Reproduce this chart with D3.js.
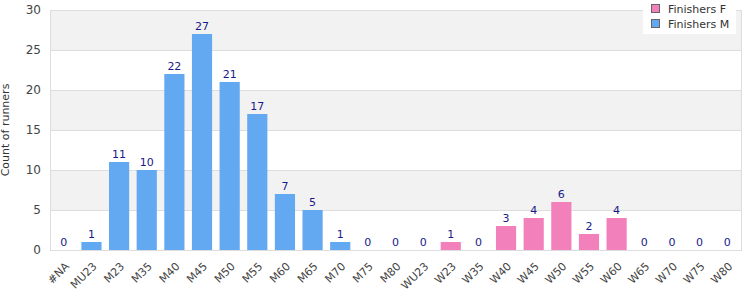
<!DOCTYPE html>
<html>
  <head>
    <meta charset="UTF-8">
    <style>
      body {
        margin: 0;
        font-family: "DejaVu Sans", Verdana, sans-serif;
        background: white;
      }

      .x-axis text {
        fill: #444;
        font-size: 11px;
      }

      .y-axis text {
        fill: #444;
        font-size: 12px;
      }

      .x-axis .domain,
      .y-axis .domain,
      .x-axis .tick line,
      .y-axis .tick line {
        opacity: 0;
      }

      .label {
        fill: #1a1a8a;
        font-size: 11px;
        text-anchor: middle;
      }

      .legend text {
        fill: #333;
        font-size: 11px;
      }
    </style>
    <script src="https://cdn.jsdelivr.net/npm/d3@7"></script>
  </head>

  <body>
    <svg id="chart"></svg>

    <script type="text/javascript">
      let categories = ['#NA', 'MU23', 'M23', 'M35', 'M40', 'M45', 'M50', 'M55', 'M60', 'M65', 'M70', 'M75', 'M80',
        'WU23', 'W23', 'W35', 'W40', 'W45', 'W50', 'W55', 'W60', 'W65', 'W70', 'W75', 'W80']
      let finishersM = [0, 1, 11, 10, 22, 27, 21, 17, 7, 5, 1, 0, 0,
        null, null, null, null, null, null, null, null, null, null, null, null]
      let finishersF = [null, null, null, null, null, null, null, null, null, null, null, null, null,
        0, 1, 0, 3, 4, 6, 2, 4, 0, 0, 0, 0]
      let yTicks = [0, 5, 10, 15, 20, 25, 30]
      let seriesNames = ['Finishers F', 'Finishers M']

      let colors = { 'Finishers F': '#f281bb', 'Finishers M': '#62a9f2' }

      function getChartConfig() {
        let width = 750
        let height = 300
        let margin = { top: 10, bottom: 50, left: 50, right: 9 }
        let bodyWidth = width - margin.left - margin.right
        let bodyHeight = height - margin.top - margin.bottom
        let container = d3.select('#chart')
          .attr('width', width)
          .attr('height', height)
        return { width, height, margin, bodyWidth, bodyHeight, container }
      }

      function drawChart(config) {
        let x = d3.scaleBand()
          .domain(categories)
          .range([0, config.bodyWidth])
          .paddingInner(0.27)
          .paddingOuter(0.135)

        let y = d3.scaleLinear()
          .domain([0, 30])
          .range([config.bodyHeight, 0])

        let g = config.container.append('g')
          .attr('transform', `translate(${config.margin.left}, ${config.margin.top})`)

        // alternating bands
        g.append('g')
          .selectAll('rect')
          .data(d3.range(yTicks.length - 1))
          .enter()
          .append('rect')
          .attr('x', 0)
          .attr('width', config.bodyWidth)
          .attr('y', i => y(yTicks[i + 1]))
          .attr('height', i => y(yTicks[i]) - y(yTicks[i + 1]))
          .attr('fill', i => i % 2 == 1 ? '#f2f2f2' : '#ffffff')

        g.append('g')
          .selectAll('line')
          .data(yTicks)
          .enter()
          .append('line')
          .attr('x1', 0)
          .attr('x2', config.bodyWidth)
          .attr('y1', d => y(d) + 0.5)
          .attr('y2', d => y(d) + 0.5)
          .attr('stroke', '#dddddd')

        g.append('rect')
          .attr('x', 0.5)
          .attr('y', 0.5)
          .attr('width', config.bodyWidth)
          .attr('height', config.bodyHeight)
          .attr('fill', 'none')
          .attr('stroke', '#dddddd')

        let series = [
          { name: 'Finishers M', values: finishersM },
          { name: 'Finishers F', values: finishersF }
        ]

        series.forEach(s => {
          let rows = categories.map((c, i) => ({ cat: c, value: s.values[i] }))
            .filter(d => d.value !== null)

          g.append('g')
            .selectAll('rect')
            .data(rows)
            .enter()
            .append('rect')
            .attr('x', d => x(d.cat))
            .attr('width', x.bandwidth())
            .attr('y', d => y(d.value))
            .attr('height', d => y(0) - y(d.value))
            .attr('fill', colors[s.name])

          g.append('g')
            .selectAll('text')
            .data(rows)
            .enter()
            .append('text')
            .attr('class', 'label')
            .attr('x', d => x(d.cat) + x.bandwidth() / 2)
            .attr('y', d => y(d.value) - 4)
            .text(d => d.value)
        })

        g.append('g')
          .attr('class', 'y-axis')
          .call(d3.axisLeft(y).tickValues(yTicks).tickSize(0).tickPadding(9))
          .selectAll('text')
          .style('font-family', 'DejaVu Sans')

        g.append('g')
          .attr('class', 'x-axis')
          .attr('transform', `translate(0, ${config.bodyHeight})`)
          .call(d3.axisBottom(x).tickSize(0).tickPadding(6))
          .selectAll('text')
          .style('font-family', 'DejaVu Sans')
          .attr('text-anchor', 'end')
          .attr('dy', '0.35em')
          .attr('transform', 'translate(-1, 10) rotate(-45)')

        config.container.append('text')
          .attr('transform', `translate(9, ${config.margin.top + config.bodyHeight / 2}) rotate(-90)`)
          .attr('text-anchor', 'middle')
          .style('font-size', '11px')
          .style('fill', '#333')
          .text('Count of runners')

        // legend
        let legend = config.container.append('g')
          .attr('class', 'legend')
          .attr('transform', 'translate(643, 0)')

        legend.append('rect')
          .attr('width', 93)
          .attr('height', 34)
          .attr('fill', 'white')

        let item = legend.selectAll('g.item')
          .data(seriesNames)
          .enter()
          .append('g')
          .attr('class', 'item')
          .attr('transform', (d, i) => `translate(8, ${4 + i * 15})`)

        item.append('rect')
          .attr('x', 0.5)
          .attr('y', 0.5)
          .attr('width', 8)
          .attr('height', 8)
          .attr('fill', d => colors[d])
          .attr('stroke', '#666')

        item.append('text')
          .attr('x', 17)
          .attr('y', 9)
          .text(d => d)
      }

      drawChart(getChartConfig())
    </script>
  </body>
</html>
